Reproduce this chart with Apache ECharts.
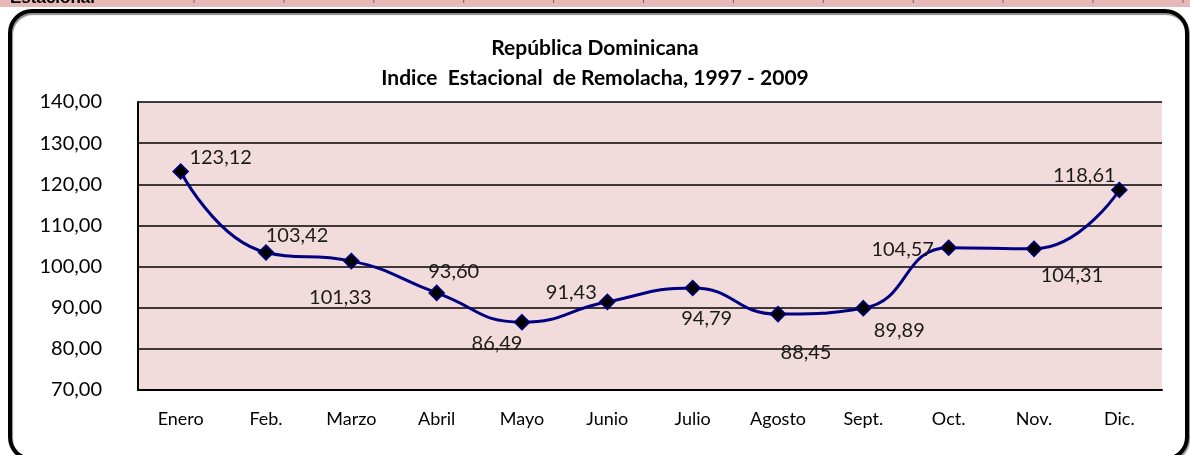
<!DOCTYPE html>
<html>
<head>
<meta charset="utf-8">
<script src="https://cdn.jsdelivr.net/npm/echarts@6/dist/echarts.min.js"></script>
<style>
  html, body { margin: 0; padding: 0; background: #fff; }
  #chart { width: 1190px; height: 455px; }
</style>
</head>
<body>
<div id="chart"></div>
<script>
// ---- data ----
const categories = ['Enero', 'Feb.', 'Marzo', 'Abril', 'Mayo', 'Junio', 'Julio', 'Agosto', 'Sept.', 'Oct.', 'Nov.', 'Dic.'];
const indiceEstacional = [123.12, 103.42, 101.33, 93.60, 86.49, 91.43, 94.79, 88.45, 89.89, 104.57, 104.31, 118.61];
const titleLines = ['República Dominicana', 'Indice  Estacional  de Remolacha, 1997 - 2009'];
const yMin = 70, yMax = 140, yStep = 10;

// ---- label placement (style only) ----
const labelOffsets = [
  [40, -14], [31, -17], [-11, 36], [17, -21], [-25, 21], [-36, -9],
  [14, 31], [28, 38], [36, 22], [-46, 2], [38, 27], [-35, -14]
];

const fmt = v => Number(v).toFixed(2).replace('.', ',');
const FONT = 'Lato, "Open Sans", "DejaVu Sans", sans-serif';

const chart = echarts.init(document.getElementById('chart'), null, { renderer: 'canvas' });

// decorative top strip ticks
const stripTicks = [];
for (let x = 194; x < 1190; x += 89.9) {
  stripTicks.push({ type: 'line', shape: { x1: x, y1: 0, x2: x, y2: 3 }, style: { stroke: '#666', lineWidth: 1 }, silent: true });
}

const option = {
  backgroundColor: '#ffffff',
  animation: false,
  title: {
    text: titleLines.join('\n'),
    left: 'center',
    top: 28,
    textStyle: { fontFamily: FONT, fontWeight: 'bold', fontSize: 21, lineHeight: 30, color: '#000' }
  },
  grid: { left: 138, right: 28, top: 102, bottom: 65, show: true, backgroundColor: '#f2dcdb', borderWidth: 0 },
  xAxis: {
    type: 'category',
    data: categories,
    boundaryGap: true,
    axisLine: { show: true, lineStyle: { color: '#000', width: 2 } },
    axisTick: { show: false },
    axisLabel: { color: '#000', fontFamily: FONT, fontSize: 18, margin: 20 },
    splitLine: { show: false }
  },
  yAxis: {
    type: 'value',
    min: yMin, max: yMax, interval: yStep,
    axisLine: { show: true, lineStyle: { color: '#000', width: 2 } },
    axisTick: { show: false },
    axisLabel: { color: '#000', fontFamily: FONT, fontSize: 20, margin: 36, formatter: fmt, padding: [6, 0, 0, 0] },
    splitLine: { show: true, lineStyle: { color: '#000', width: 1.5 } }
  },
  series: [{
    type: 'line',
    data: indiceEstacional.map((v, i) => ({
      value: v,
      label: { offset: labelOffsets[i] }
    })),
    smooth: 0.5,
    symbol: 'diamond',
    symbolSize: 15,
    lineStyle: { color: '#000080', width: 3 },
    itemStyle: { color: '#000', borderColor: '#000080', borderWidth: 1.5 },
    label: {
      show: true,
      position: 'inside',
      align: 'center',
      verticalAlign: 'middle',
      formatter: p => fmt(p.value),
      fontFamily: FONT,
      fontSize: 20,
      color: '#1a1a1a'
    },
    z: 3
  }],
  graphic: [
    { type: 'rect', shape: { x: 0, y: 0, width: 1190, height: 7 }, style: { fill: '#e6b8b7' }, silent: true, z: 0 },
    { type: 'text', x: 10, y: 7, style: { text: 'Estacional', fill: '#000', font: 'bold 17px "Liberation Sans", Arial, sans-serif', textVerticalAlign: 'bottom' }, silent: true },
    ...stripTicks,
    { type: 'rect', shape: { x: 10, y: 11, width: 1177, height: 448, r: 22 },
      style: { fill: 'none', stroke: '#000', lineWidth: 4, shadowColor: 'rgba(0,0,0,0.45)', shadowOffsetX: 1, shadowOffsetY: 2, shadowBlur: 1 },
      silent: true, z: 10 }
  ]
};

chart.setOption(option);
</script>
</body>
</html>
